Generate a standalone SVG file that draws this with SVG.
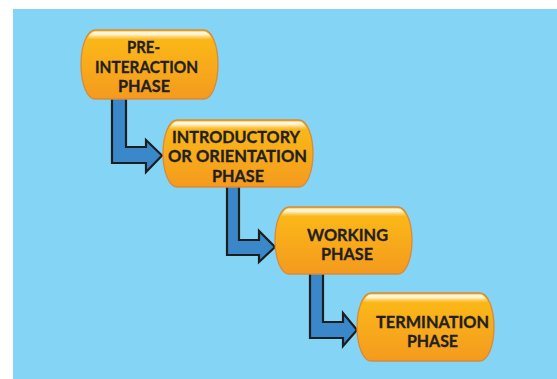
<svg xmlns="http://www.w3.org/2000/svg" width="557" height="379" viewBox="0 0 557 379">
  <defs>
    <linearGradient id="gOrange" x1="0" y1="0" x2="0" y2="1">
      <stop offset="0" stop-color="#FCBC16"/>
      <stop offset="1" stop-color="#F49A1F"/>
    </linearGradient>
    <linearGradient id="gGloss" x1="0" y1="0" x2="0" y2="1">
      <stop offset="0" stop-color="#FFFBEF" stop-opacity="1"/>
      <stop offset="0.05" stop-color="#FFF3D2" stop-opacity="0.95"/>
      <stop offset="0.09" stop-color="#FFE9B0" stop-opacity="0.4"/>
      <stop offset="0.12" stop-color="#FFFFFF" stop-opacity="0"/>
    </linearGradient>
  </defs>
  <style>
    .node { fill: url(#gOrange); stroke: #D98A3A; stroke-width: 1.3; }
    .gloss { fill: url(#gGloss); stroke: none; }
    .label { font-family: Lato, "Open Sans", "Liberation Sans", sans-serif; font-weight: 700; font-size: 17.5px; fill: #231F20; stroke: #231F20; stroke-width: 0.35; text-anchor: middle; }
    .arrow { fill: #3A88C9; stroke: #1E1E1E; stroke-width: 2.2; stroke-linejoin: miter; }
  </style>
  <rect x="13" y="9" width="544" height="370" fill="#84D4F5"/>

  <g id="connectors">
    <polygon class="arrow" points="112,97 126,97 126,147 146,147 146,140 162,155.5 146,172 146,163 112,163"/>
    <polygon class="arrow" points="227,185 239,185 239,240 259,240 259,231 275,247 259,262 259,255 227,255"/>
    <polygon class="arrow" points="310,272 323,272 323,322 343,322 343,313 357,330 343,346 343,338 310,338"/>
  </g>

  <g id="node-pre-interaction">
    <path class="node" d="M95,30 H204 A14,34.5 0 0 1 204,99 H95 A14,34.5 0 0 1 95,30 Z"/>
    <path class="gloss" d="M95,31.5 H204 A12.5,33 0 0 1 204,97.5 H95 A12.5,33 0 0 1 95,31.5 Z"/>
    <text class="label" x="143.5" y="53" textLength="33" lengthAdjust="spacingAndGlyphs">PRE-</text>
    <text class="label" x="146.5" y="72.5" textLength="103" lengthAdjust="spacingAndGlyphs">INTERACTION</text>
    <text class="label" x="144" y="92" textLength="52" lengthAdjust="spacingAndGlyphs">PHASE</text>
  </g>

  <g id="node-introductory">
    <path class="node" d="M177,120 H299 A14,33.5 0 0 1 299,187 H177 A14,33.5 0 0 1 177,120 Z"/>
    <path class="gloss" d="M177,121.5 H299 A12.5,32 0 0 1 299,185.5 H177 A12.5,32 0 0 1 177,121.5 Z"/>
    <text class="label" x="236" y="143" textLength="128" lengthAdjust="spacingAndGlyphs">INTRODUCTORY</text>
    <text class="label" x="237.5" y="162" textLength="139" lengthAdjust="spacingAndGlyphs">OR ORIENTATION</text>
    <text class="label" x="238" y="182" textLength="52" lengthAdjust="spacingAndGlyphs">PHASE</text>
  </g>

  <g id="node-working">
    <path class="node" d="M289,207 H398 A14,33.5 0 0 1 398,274 H289 A14,33.5 0 0 1 289,207 Z"/>
    <path class="gloss" d="M289,208.5 H398 A12.5,32 0 0 1 398,272.5 H289 A12.5,32 0 0 1 289,208.5 Z"/>
    <text class="label" x="347.5" y="241" textLength="81" lengthAdjust="spacingAndGlyphs">WORKING</text>
    <text class="label" x="347" y="260" textLength="52" lengthAdjust="spacingAndGlyphs">PHASE</text>
  </g>

  <g id="node-termination">
    <path class="node" d="M371,293 H480 A14,34 0 0 1 480,361 H371 A14,34 0 0 1 371,293 Z"/>
    <path class="gloss" d="M371,294.5 H480 A12.5,32.5 0 0 1 480,359.5 H371 A12.5,32.5 0 0 1 371,294.5 Z"/>
    <text class="label" x="432.5" y="328" textLength="113" lengthAdjust="spacingAndGlyphs">TERMINATION</text>
    <text class="label" x="432.5" y="347" textLength="51" lengthAdjust="spacingAndGlyphs">PHASE</text>
  </g>
</svg>
